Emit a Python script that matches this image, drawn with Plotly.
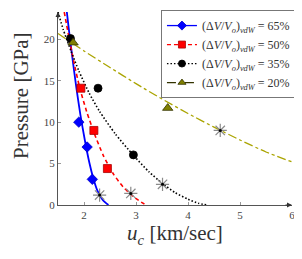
import plotly.graph_objects as go

# ---- data ----
labels = ["65%", "50%", "35%", "20%"]

curve65_u = [1.67, 1.72, 1.78, 1.85, 1.93, 2.02, 2.10, 2.18, 2.26, 2.36, 2.47]
curve65_p = [23.3, 20.6, 17.6, 14.3, 10.9, 7.7, 5.2, 3.2, 1.7, 0.6, 0.0]

curve50_u = [1.62, 1.70, 1.80, 1.92, 2.05, 2.20, 2.37, 2.57, 2.75, 2.95, 3.10, 3.20]
curve50_p = [23.3, 20.6, 17.4, 14.1, 11.3, 8.6, 6.0, 3.7, 2.2, 1.0, 0.35, 0.0]

curve35_u = [1.50, 1.60, 1.75, 1.90, 2.10, 2.30, 2.60, 2.95, 3.25, 3.51, 3.75, 4.00, 4.20, 4.38]
curve35_p = [23.3, 21.2, 18.6, 16.2, 13.5, 11.3, 8.6, 6.0, 4.0, 2.6, 1.5, 0.7, 0.2, 0.0]

curve20_u = [1.50, 2.00, 2.50, 3.00, 3.50, 4.00, 4.50, 5.00, 5.50, 6.00]
curve20_p = [20.7, 18.6, 16.6, 14.65, 12.8, 11.05, 9.4, 7.85, 6.4, 5.2]

# simulation points
pts65_u = [1.90, 2.06, 2.16]
pts65_p = [10.0, 7.0, 3.1]
pts50_u = [1.94, 2.19, 2.45]
pts50_p = [14.1, 9.0, 4.4]
pts35_u = [1.74, 2.27, 2.95]
pts35_p = [20.1, 14.1, 6.05]
pts20_u = [1.79, 3.61]
pts20_p = [19.6, 11.7]

# asterisk points
star_u = [2.30, 2.90, 3.51, 4.62]
star_p = [1.2, 1.4, 2.5, 9.0]

x_ticks = [2, 3, 4, 5, 6]
y_ticks = [0, 5, 10, 15, 20]
XMIN, XMAX = 1.5, 6.0
YMIN, YMAX = 0.0, 23.3

SERIF = "Liberation Serif"

styles = [
    dict(color="#0000ff", dash="solid", width=1.8, symbol="diamond", msize=8, mfill="#0000ff", medge="#0000cc"),
    dict(color="#ff0000", dash="4px,3px", width=1.6, symbol="square", msize=8, mfill="#ff0000", medge="#aa0000"),
    dict(color="#000000", dash="1.5px,2px", width=1.6, symbol="circle", msize=8, mfill="#000000", medge="#000000"),
    dict(color="#aaa400", dash="dashdot", width=1.3, symbol="triangle-up", msize=9, mfill="#808000", medge="#333300"),
]
curves = [(curve65_u, curve65_p), (curve50_u, curve50_p), (curve35_u, curve35_p), (curve20_u, curve20_p)]
points = [(pts65_u, pts65_p), (pts50_u, pts50_p), (pts35_u, pts35_p), (pts20_u, pts20_p)]

fig = go.Figure()

for i, lab in enumerate(labels):
    s = styles[i]
    cu, cp = curves[i]
    fig.add_trace(go.Scatter(x=cu, y=cp, mode="lines", showlegend=False,
                             line=dict(color=s["color"], dash=s["dash"], width=s["width"], shape="spline", smoothing=0.6),
                             hoverinfo="skip"))

# asterisks
fig.add_trace(go.Scatter(x=star_u, y=star_p, mode="markers", showlegend=False,
                         marker=dict(symbol="asterisk-open", size=11, color="#8a8a8a",
                                     line=dict(color="#8a8a8a", width=1.2))))
fig.add_trace(go.Scatter(x=star_u, y=star_p, mode="markers", showlegend=False,
                         marker=dict(symbol="circle", size=3, color="#000000")))

for i, lab in enumerate(labels):
    s = styles[i]
    pu, pp = points[i]
    fig.add_trace(go.Scatter(x=pu, y=pp, mode="markers", showlegend=False,
                             marker=dict(symbol=s["symbol"], size=s["msize"], color=s["mfill"],
                                         line=dict(color=s["medge"], width=0.8))))

# legend entries
for i, lab in enumerate(labels):
    s = styles[i]
    name = "(Δ<i>V</i>/<i>V</i><sub><i>o</i></sub>)<sub><i>vdW</i></sub> = " + lab
    fig.add_trace(go.Scatter(x=[None], y=[None], mode="lines+markers", name=name,
                             line=dict(color=s["color"] if i != 3 else "#333300", dash=s["dash"], width=1.3),
                             marker=dict(symbol=s["symbol"], size=7, color=s["mfill"],
                                         line=dict(color=s["medge"], width=0.8))))

# the page body adds an 8px offset, so the figure is 8px smaller than the window
fig.update_layout(
    width=294, height=251,
    margin=dict(l=50, r=10, t=4, b=54, autoexpand=False),
    paper_bgcolor="white", plot_bgcolor="white",
    font=dict(family=SERIF, size=11, color="#333333"),
    showlegend=True,
    legend=dict(x=0.44, y=1.01, xanchor="left", yanchor="top",
                bgcolor="white", bordercolor="#777777", borderwidth=1,
                font=dict(family=SERIF, size=12, color="#333333"),
                tracegroupgap=0, itemwidth=30),
    xaxis=dict(range=[XMIN, XMAX], tickvals=x_ticks, showgrid=False, zeroline=False,
               showline=True, linecolor="#555555", linewidth=1,
               ticks="inside", ticklen=3, tickcolor="#999999",
               tickfont=dict(family=SERIF, size=11, color="#444444"),
               title=dict(text="<i>u<sub>c</sub></i> [km/sec]", font=dict(family=SERIF, size=21, color="#333333"), standoff=4)),
    yaxis=dict(range=[YMIN, YMAX], tickvals=y_ticks, showgrid=False, zeroline=False,
               showline=True, linecolor="#555555", linewidth=1,
               ticks="inside", ticklen=3, tickcolor="#999999",
               tickfont=dict(family=SERIF, size=11, color="#444444")),
)

# y axis title placed as in the reference
fig.add_annotation(text="Pressure [GPa]", xref="paper", yref="paper", x=-0.158, y=0.565,
                   xanchor="center", yanchor="middle", textangle=-90, showarrow=False,
                   font=dict(family=SERIF, size=21, color="#333333"))

# axis arrows
fig.add_annotation(x=XMAX, y=YMIN, xref="x", yref="y", ax=-8, ay=0, axref="pixel", ayref="pixel",
                   text="", showarrow=True, arrowhead=2, arrowsize=1, arrowwidth=1, arrowcolor="#333333")
fig.add_annotation(x=XMIN, y=YMAX, xref="x", yref="y", ax=0, ay=8, axref="pixel", ayref="pixel",
                   text="", showarrow=True, arrowhead=2, arrowsize=1, arrowwidth=1, arrowcolor="#333333")

fig.write_html("out.html")
